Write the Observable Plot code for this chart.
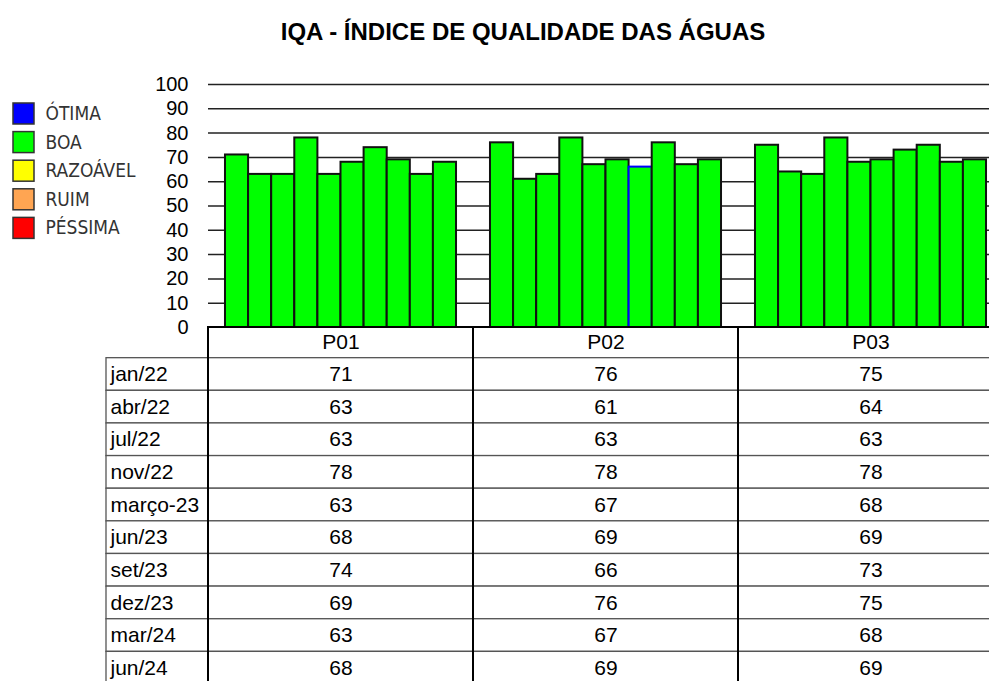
<!DOCTYPE html>
<html><head><meta charset="utf-8">
<script src="https://cdn.jsdelivr.net/npm/d3@7"></script>
<script src="https://cdn.jsdelivr.net/npm/@observablehq/plot@0.6"></script>
<style>
html,body{margin:0;padding:0;background:#fff;overflow:hidden;width:989px;height:681px;}
#root{position:relative;width:989px;height:681px;overflow:hidden;font-family:"Liberation Sans",Arial,sans-serif;}
#root > svg{position:absolute;left:0;top:0;}
#title{position:absolute;left:0;top:20px;width:1046px;text-align:center;font:bold 24px/24px "Liberation Sans",Arial,sans-serif;color:#000;}
</style></head><body><div id="root"><div id="title">IQA - ÍNDICE DE QUALIDADE DAS ÁGUAS</div></div>
<script>
const points = ["P01", "P02", "P03"];
const months = ["jan/22", "abr/22", "jul/22", "nov/22", "março-23", "jun/23", "set/23", "dez/23", "mar/24", "jun/24"];
const p01 = [71, 63, 63, 78, 63, 68, 74, 69, 63, 68];
const p02 = [76, 61, 63, 78, 67, 69, 66, 76, 67, 69];
const p03 = [75, 64, 63, 78, 68, 69, 73, 75, 68, 69];
const yTicks = [0, 10, 20, 30, 40, 50, 60, 70, 80, 90, 100];
const legendLabels = ["ÓTIMA", "BOA", "RAZOÁVEL", "RUIM", "PÉSSIMA"];
const legendColors = ["#0000ff", "#00ff00", "#ffff00", "#ffa552", "#ff0000"];

const series = [p01, p02, p03];
const data = points.flatMap((p, j) => months.map((m, i) => ({point: p, month: m, value: series[j][i]})));

const FONT = '"Liberation Sans", Arial, sans-serif';
const root = document.getElementById("root");
const baseStyle = {fontFamily: FONT, background: "none", maxWidth: "none", overflow: "visible", color: "#000"};

// legend
const legend = Plot.plot({
  width: 220, height: 238.4, marginLeft: 13, marginRight: 186, marginTop: 103, marginBottom: 0,
  style: {...baseStyle, fontFamily: '"Liberation Sans Narrow", "DejaVu Sans Condensed", ' + FONT, fontSize: "19px"},
  y: {domain: legendLabels, paddingInner: 0.266, paddingOuter: 0, round: false, axis: null},
  color: {domain: legendLabels, range: legendColors},
  marks: [
    Plot.cell(legendLabels, {y: d => d, fill: d => d, stroke: "#333", strokeWidth: 1.5}),
    Plot.text(legendLabels, {y: d => d, text: d => d, frameAnchor: "right", textAnchor: "start", dx: 11, fill: "#333"})
  ]
});

// bar chart
const chart = Plot.plot({
  width: 1003, height: 330, marginLeft: 208, marginRight: 0, marginTop: 84, marginBottom: 3,
  style: {...baseStyle, fontSize: "20px"},
  fx: {domain: points, padding: 0, round: false, axis: null, label: null},
  x: {domain: months, paddingInner: 0, paddingOuter: 0.735, round: false, axis: null},
  y: {domain: [0, 100], ticks: yTicks, tickSize: 0, tickPadding: 20, label: null},
  marks: [
    Plot.ruleY(yTicks.filter(v => v > 0), {stroke: "#222", strokeWidth: 1.5}),
    Plot.barY(data, {
      fx: "point", x: "month", y: "value", fill: "#00ff00",
      stroke: d => (d.point === "P02" && d.month === "set/23") ? "#0000ff" : "#111111",
      strokeWidth: 2
    })
  ]
});

// table: row labels column
const yTable = {domain: months, paddingInner: 0, paddingOuter: 0.47, align: 1, round: false, axis: null};
const tableA = Plot.plot({
  width: 208, height: 690, marginLeft: 106, marginRight: 0, marginTop: 327, marginBottom: 6,
  style: {...baseStyle, fontSize: "21px"},
  y: yTable,
  marks: [
    Plot.cell(months, {y: d => d, fill: "white", stroke: "#555", strokeWidth: 1.3}),
    Plot.text(months, {y: d => d, text: d => d, frameAnchor: "left", textAnchor: "start", dx: 4, fill: "#000"})
  ]
});

// table: values
const tableB = Plot.plot({
  width: 1003, height: 690, marginLeft: 208, marginRight: 0, marginTop: 327, marginBottom: 6,
  style: {...baseStyle, fontSize: "21px"},
  x: {domain: points, padding: 0, round: false, axis: null},
  y: yTable,
  marks: [
    Plot.cell(data, {x: "point", y: "month", fill: "white", stroke: "#555", strokeWidth: 1.3}),
    Plot.cell(points, {x: d => d, fill: "none", stroke: "#000", strokeWidth: 2}),
    Plot.text(points, {x: d => d, text: d => d, frameAnchor: "top", lineAnchor: "middle", dy: 15, fill: "#000"}),
    Plot.text(data, {x: "point", y: "month", text: d => String(d.value), fill: "#000"})
  ]
});

root.append(legend, chart, tableA, tableB);
</script></body></html>
